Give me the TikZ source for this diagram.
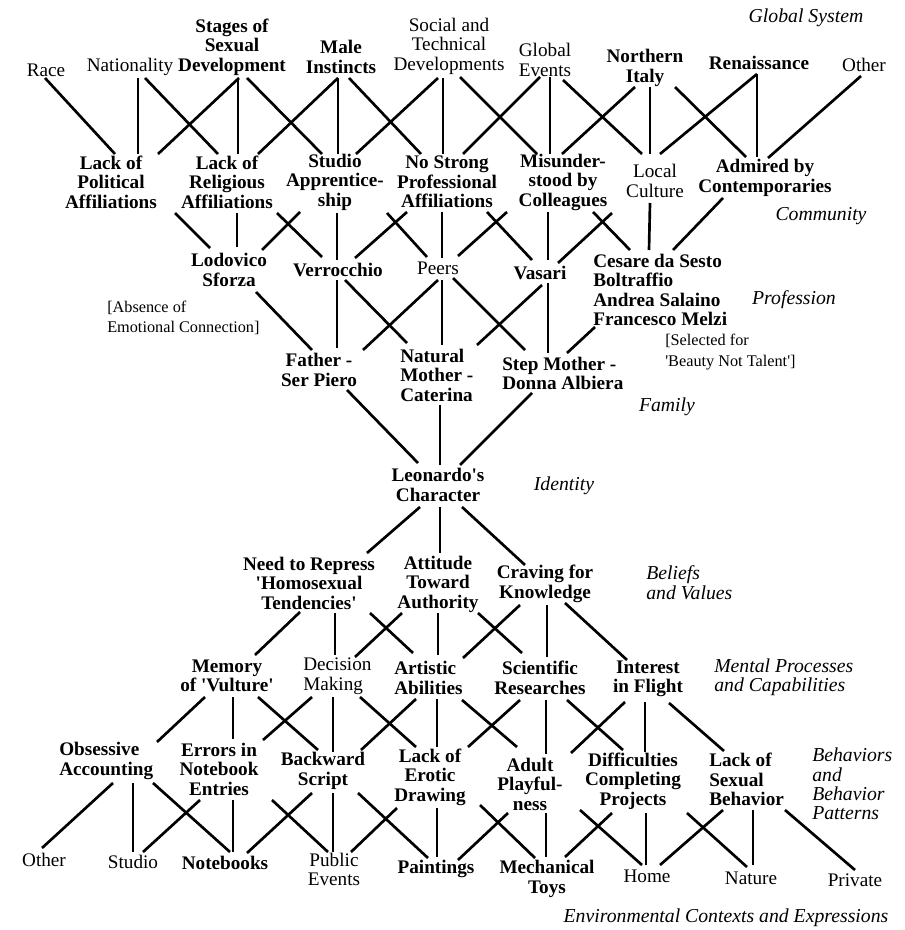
\documentclass[tikz,border=0pt]{standalone}
\usepackage{fontspec}
\setmainfont{Liberation Serif}
\newcommand\tq{\textquotesingle}
% connector between two node-relative points
\newcommand\lnk[4]{\draw[link] ([shift={(#2)}]#1) -- ([shift={(#4)}]#3);}
\begin{document}
\begin{tikzpicture}[x=0.75pt,y=-0.75pt,
  reg/.style={inner sep=0pt,align=center,font=\fontsize{14.4}{14.6}\selectfont},
  bld/.style={reg,font=\fontsize{14.4}{14.6}\selectfont\bfseries},
  note/.style={inner sep=0pt,align=left,anchor=west,font=\fontsize{12.2}{15.2}\selectfont},
  lvl/.style={inner sep=0pt,align=left,font=\fontsize{14.8}{14.6}\selectfont\itshape},
  link/.style={line width=2pt}]
\fill[white] (0,0) rectangle (905,930);
\useasboundingbox (0,0) rectangle (905,930);

% ---- global system
\node[reg] (race) at (46,70) {Race};
\node[reg] (nat) at (130,67) {Nationality};
\node[bld] (stages) at (232,47) {Stages of\\Sexual\\Development};
\node[bld] (male) at (341,57) {Male\\Instincts};
\node[reg] (social) at (449,46) {Social and\\Technical\\Developments};
\node[reg] (global) at (545,60) {Global\\Events};
\node[bld] (north) at (645,68) {Northern\\Italy};
\node[bld] (ren) at (759,63) {Renaissance};
\node[reg] (other) at (864,65) {Other};
\node[lvl] (lglobal) at (806,18) {Global System};

% ---- community
\node[bld] (lp) at (111,182) {Lack of\\Political\\Affiliations};
\node[bld] (lr) at (227,182) {Lack of\\Religious\\Affiliations};
\node[bld] (studio) at (335,182) {Studio\\Apprentice-\\ship};
\node[bld] (nostrong) at (447,182) {No Strong\\Professional\\Affiliations};
\node[bld] (misund) at (563,182) {Misunder-\\stood by\\Colleagues};
\node[reg] (local) at (655,181) {Local\\Culture};
\node[bld] (admired) at (765,178) {Admired by\\Contemporaries};
\node[lvl] (lcommunity) at (821,216) {Community};

% ---- profession
\node[bld] (lodo) at (229,270) {Lodovico\\Sforza};
\node[bld] (verro) at (338,270) {Verrocchio};
\node[reg] (peers) at (438,268) {Peers};
\node[bld] (vasari) at (540,273) {Vasari};
\node[bld,align=left,anchor=west] (cesare) at (593,290) {Cesare da Sesto\\Boltraffio\\Andrea Salaino\\Francesco Melzi};
\node[note] (absence) at (107,318) {[Absence of\\Emotional Connection]};
\node[note] (selected) at (665,352) {[Selected for\\\tq Beauty Not Talent\tq]};
\node[lvl] (lprofession) at (794,300) {Profession};

% ---- family
\node[bld] (father) at (319,370) {Father -\\Ser Piero};
\node[bld,align=left,anchor=west] (natural) at (400,375) {Natural\\Mother -\\Caterina};
\node[bld,align=left,anchor=west] (step) at (502,373.5) {Step Mother -\\Donna Albiera};
\node[lvl] (lfamily) at (667,407) {Family};

% ---- identity
\node[bld] (leo) at (438,485) {Leonardo\tq s\\Character};
\node[lvl] (lidentity) at (564,486) {Identity};

% ---- beliefs and values
\node[bld] (need) at (309,583) {Need to Repress\\\tq Homosexual\\Tendencies\tq};
\node[bld] (attitude) at (438,584) {Attitude\\Toward\\Authority};
\node[bld] (craving) at (545,584) {Craving for\\Knowledge};
\node[lvl,anchor=west] (lbeliefs) at (646,582.5) {Beliefs\\and Values};

% ---- mental processes
\node[bld] (memory) at (227,676) {Memory\\of \tq Vulture\tq};
\node[reg,align=left,anchor=west] (decision) at (303,676) {Decision\\Making};
\node[bld,align=left,anchor=west] (artistic) at (394,678) {Artistic\\Abilities};
\node[bld] (scientific) at (540,678) {Scientific\\Researches};
\node[bld] (interest) at (648,679) {Interest\\in Flight};
\node[lvl,anchor=west] (lmental) at (714,677.5) {Mental Processes\\and Capabilities};

% ---- behaviors
\node[bld,align=left,anchor=west] (obsessive) at (59,761) {Obsessive\\Accounting};
\node[bld] (errors) at (219,769) {Errors in\\Notebook\\Entries};
\node[bld] (backward) at (323,771) {Backward\\Script};
\node[bld] (erotic) at (430,777) {Lack of\\Erotic\\Drawing};
\node[bld] (adult) at (530,784) {Adult\\Playful-\\ness};
\node[bld] (diff) at (633,781) {Difficulties\\Completing\\Projects};
\node[bld,align=left,anchor=west] (sexual) at (709,779.5) {Lack of\\Sexual\\Behavior};
\node[lvl,anchor=west] (lbehav) at (812,784) {Behaviors\\and\\Behavior\\Patterns};

% ---- environmental contexts
\node[reg] (other2) at (44,860) {Other};
\node[reg] (studio2) at (133,862) {Studio};
\node[bld] (notebooks) at (225,863) {Notebooks};
\node[reg] (public) at (334,869.5) {Public\\Events};
\node[bld] (paintings) at (436,869) {Paintings};
\node[bld] (mech) at (547,879) {Mechanical\\Toys};
\node[reg] (home) at (647,876) {Home};
\node[reg] (nature) at (751,878) {Nature};
\node[reg] (private) at (855,880) {Private};
\node[lvl] (lenv) at (726,918) {Environmental Contexts and Expressions};

% ---- global system -> community
\lnk{race.center}{-1,8}{lp.center}{4,-28}
\lnk{nat.center}{8,11}{lp.center}{27,-28}
\lnk{nat.center}{15,11}{lr.center}{-9,-28}
\lnk{stages.center}{7,31}{lp.center}{47,-28}
\lnk{stages.center}{6,31}{lr.center}{11,-28}
\lnk{stages.center}{15,31}{studio.center}{-13,-28}
\lnk{male.center}{-3,21}{lr.center}{31,-28}
\lnk{male.center}{-3,21}{studio.center}{3,-28}
\lnk{male.center}{8,21}{nostrong.center}{-26,-28}
\lnk{social.center}{-11,32}{studio.center}{21,-28}
\lnk{social.center}{-6,32}{nostrong.center}{-4,-28}
\lnk{social.center}{11,31}{misund.center}{-26,-28}
\lnk{global.center}{-5,17}{nostrong.center}{16,-28}
\lnk{global.center}{5,17}{misund.center}{-13,-28}
\lnk{global.center}{18,20}{local.center}{-13,-27}
\lnk{north.center}{-10,19}{misund.center}{-1,-28}
\lnk{north.center}{5,19}{local.center}{-5,-27}
\lnk{north.center}{30,19}{admired.center}{-19,-21}
\lnk{ren.center}{-2,11}{local.center}{5,-27}
\lnk{ren.center}{-2,11}{admired.center}{-8,-21}
\lnk{other.center}{-3,11}{admired.center}{3,-20}

% ---- community -> profession
\lnk{lp.center}{64,31}{lodo.center}{-19,-22}
\lnk{lr.center}{10,31}{lodo.center}{8,-23}
\lnk{studio.center}{-35,30}{lodo.center}{33,-20}
\lnk{lr.center}{50,31}{verro.center}{-16,-13}
\lnk{studio.center}{2,31}{verro.center}{-1,-10}
\lnk{nostrong.center}{-40,30}{verro.center}{17,-12}
\lnk{studio.center}{52,31}{peers.center}{-11,-11}
\lnk{nostrong.center}{-5,30}{peers.center}{4,-10}
\lnk{misund.center}{-56,30}{peers.center}{20,-12}
\lnk{nostrong.center}{40,30}{vasari.center}{-8,-13}
\lnk{misund.center}{-15,30}{vasari.center}{8,-13}
\lnk{local.center}{-43,32}{vasari.center}{18,-10}
\lnk{misund.center}{30,30}{cesare.west}{37,-40}
\lnk{local.center}{-5,22}{cesare.west}{56,-40}
\lnk{admired.center}{-42,20}{cesare.west}{80,-40}

% ---- profession -> family
\lnk{lodo.center}{27,22}{father.center}{-7,-20}
\lnk{verro.center}{-1,10}{father.center}{18,-22}
\lnk{verro.center}{7,10}{natural.west}{7,-32}
\lnk{peers.center}{0,12}{father.center}{44,-20}
\lnk{peers.center}{4,12}{natural.west}{42,-30}
\lnk{peers.center}{15,10}{step.west}{23,-23.5}
\lnk{vasari.center}{2,12}{natural.west}{77,-30}
\lnk{vasari.center}{8,10}{step.west}{46,-20.5}
\lnk{cesare.west}{2,37}{step.west}{65,-20.5}

% ---- family -> identity
\lnk{father.center}{28,20}{leo.center}{-20,-22}
\lnk{natural.west}{40,30}{leo.center}{2,-20}
\lnk{step.west}{30,19.5}{leo.center}{22,-20}

% ---- identity -> beliefs and values
\lnk{leo.center}{-18,22}{need.center}{58,-30}
\lnk{leo.center}{2,22}{attitude.center}{2,-31}
\lnk{leo.center}{24,22}{craving.center}{-20,-19}

% ---- beliefs and values -> mental processes
\lnk{need.center}{-9,29}{memory.center}{28,-21}
\lnk{need.center}{26,30}{decision.west}{32,-21}
\lnk{need.center}{61,30}{artistic.west}{19,-25}
\lnk{attitude.center}{-36,29}{decision.west}{52,-19}
\lnk{attitude.center}{0,29}{artistic.west}{44,-23}
\lnk{attitude.center}{40,29}{scientific.center}{-18,-25}
\lnk{craving.center}{-25,21}{artistic.west}{69,-20}
\lnk{craving.center}{2,21}{scientific.center}{7,-21}
\lnk{craving.center}{20,19}{interest.center}{-21,-19}

% ---- mental processes -> behaviors
\lnk{memory.center}{-22,21}{obsessive.west}{98,-19}
\lnk{memory.center}{6,21}{errors.center}{14,-30}
\lnk{memory.center}{31,21}{backward.center}{-5,-21}
\lnk{decision.west}{9,21}{errors.center}{44,-29}
\lnk{decision.west}{30,21}{backward.center}{10,-19}
\lnk{decision.west}{57,21}{erotic.center}{-14,-30}
\lnk{artistic.west}{22,21}{backward.center}{38,-21}
\lnk{artistic.west}{43,21}{erotic.center}{7,-30}
\lnk{artistic.west}{68,22}{adult.center}{-13,-37}
\lnk{scientific.center}{-20,22}{erotic.center}{38,-30}
\lnk{scientific.center}{6,22}{adult.center}{16,-30}
\lnk{scientific.center}{27,22}{diff.center}{-10,-31}
\lnk{interest.center}{-23,23}{adult.center}{41,-31}
\lnk{interest.center}{-3,23}{diff.center}{12,-29}
\lnk{interest.center}{21,24}{sexual.west}{15,-28.5}

% ---- behaviors -> environmental contexts
\lnk{obsessive.west}{54,22}{other2.center}{-2,-12}
\lnk{obsessive.west}{74,22}{studio2.center}{0,-10}
\lnk{obsessive.west}{94,22}{notebooks.center}{5,-11}
\lnk{errors.center}{-19,31}{studio2.center}{10,-10}
\lnk{errors.center}{14,31}{notebooks.center}{8,-11}
\lnk{errors.center}{53,31}{public.center}{-6,-17.5}
\lnk{backward.center}{-11,22}{notebooks.center}{22,-10}
\lnk{backward.center}{10,22}{public.center}{-1,-17.5}
\lnk{backward.center}{35,22}{paintings.center}{-8,-11}
\lnk{erotic.center}{-33,31}{public.center}{17,-17.5}
\lnk{erotic.center}{7,31}{paintings.center}{1,-12}
\lnk{erotic.center}{50,28}{mech.center}{-12,-21}
\lnk{adult.center}{-22,29}{paintings.center}{22,-9}
\lnk{adult.center}{16,29}{mech.center}{-1,-22}
\lnk{adult.center}{50,26}{home.center}{-5,-11}
\lnk{diff.center}{-21,32}{mech.center}{18,-22}
\lnk{diff.center}{13,32}{home.center}{-1,-11}
\lnk{diff.center}{54,32}{nature.center}{-4,-11}
\lnk{sexual.west}{14,30.5}{home.center}{13,-11}
\lnk{sexual.west}{44,30.5}{nature.center}{2,-13}
\lnk{sexual.west}{76,30.5}{private.center}{0,-10}
\end{tikzpicture}
\end{document}
